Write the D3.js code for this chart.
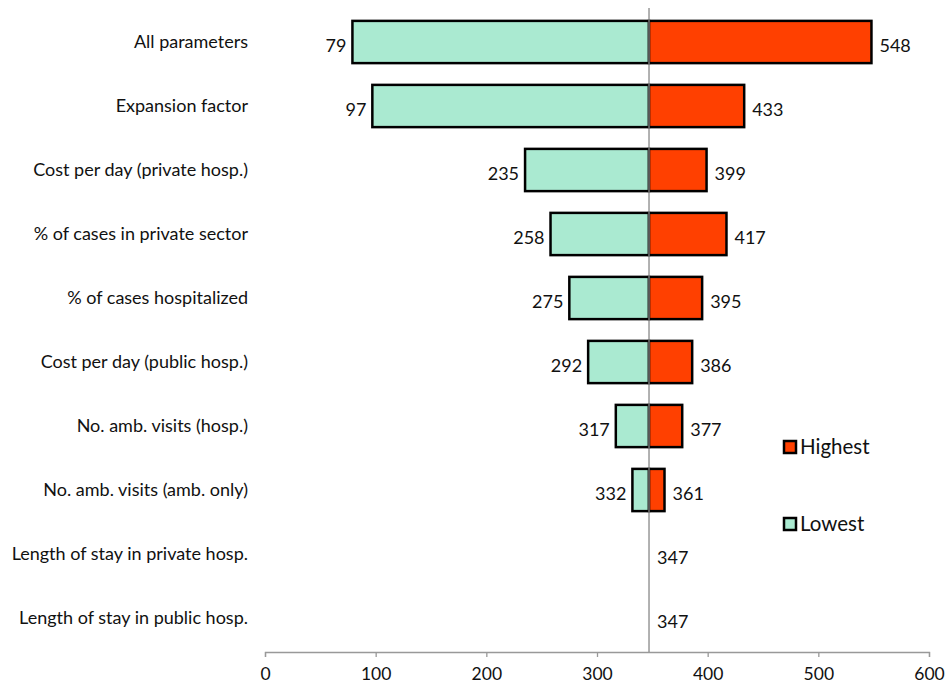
<!DOCTYPE html>
<html>
<head>
<meta charset="utf-8">
<script src="https://cdn.jsdelivr.net/npm/d3@7"></script>
<style>
  body { margin: 0; background: #fff; }
  text { font-family: Lato, "Open Sans", sans-serif; fill: #111; }
</style>
</head>
<body>
<div id="canvas"></div>
<script>
// parameters, top to bottom
var categories = [
  "All parameters",
  "Expansion factor",
  "Cost per day (private hosp.)",
  "% of cases in private sector",
  "% of cases hospitalized",
  "Cost per day (public hosp.)",
  "No. amb. visits (hosp.)",
  "No. amb. visits (amb. only)",
  "Length of stay in private hosp.",
  "Length of stay in public hosp."
]
var lowest  = [79, 97, 235, 258, 275, 292, 317, 332, 347, 347]
var highest = [548, 433, 399, 417, 395, 386, 377, 361, 347, 347]
var baseValue = 347
var xTicks = [0, 100, 200, 300, 400, 500, 600]

var width = 945, height = 683

var svg = d3.select("#canvas")
  .append("svg")
    .attr("width", width)
    .attr("height", height)

var x = d3.scaleLinear()
  .domain([0, 600])
  .range([265, 929])

var y = d3.scaleBand()
  .domain(categories)
  .range([10, 650])
  .paddingInner(0.34)
  .paddingOuter(0.17)

var axisY = 652

// x axis
var xAxis = svg.append("g")
  .attr("transform", "translate(0," + axisY + ")")
  .call(d3.axisBottom(x).tickValues(xTicks).tickSize(5).tickPadding(11))
xAxis.select(".domain").attr("stroke", "#999").attr("stroke-width", 1.3)
xAxis.selectAll(".tick line").attr("stroke", "#999").attr("stroke-width", 1.3)
xAxis.selectAll(".tick text")
  .style("font-family", "Lato, 'Open Sans', sans-serif")
  .style("font-size", "17.5px")
  .attr("fill", "#111")

// category labels
svg.append("g")
  .selectAll("text")
  .data(categories)
  .enter().append("text")
    .attr("x", 248)
    .attr("y", function(d) { return y(d) + y.bandwidth() / 2 })
    .attr("dy", "0.35em")
    .attr("text-anchor", "end")
    .style("font-size", "18px")
    .text(function(d) { return d })

var rows = categories.map(function(c, i) {
  return { name: c, low: lowest[i], high: highest[i] }
})

// lowest bars
svg.append("g")
  .selectAll("rect")
  .data(rows.filter(function(d) { return d.low < baseValue }))
  .enter().append("rect")
    .attr("x", function(d) { return x(d.low) })
    .attr("y", function(d) { return y(d.name) })
    .attr("width", function(d) { return x(baseValue) - x(d.low) })
    .attr("height", y.bandwidth())
    .attr("fill", "#aaead1")
    .attr("stroke", "#000")
    .attr("stroke-width", 2.5)

// highest bars
svg.append("g")
  .selectAll("rect")
  .data(rows.filter(function(d) { return d.high > baseValue }))
  .enter().append("rect")
    .attr("x", x(baseValue))
    .attr("y", function(d) { return y(d.name) })
    .attr("width", function(d) { return x(d.high) - x(baseValue) })
    .attr("height", y.bandwidth())
    .attr("fill", "#ff4000")
    .attr("stroke", "#000")
    .attr("stroke-width", 2.5)

// center line
svg.append("line")
  .attr("x1", x(baseValue)).attr("x2", x(baseValue))
  .attr("y1", 8).attr("y2", axisY)
  .attr("stroke", "#888")
  .attr("stroke-width", 1.3)

// value labels
svg.append("g")
  .selectAll("text")
  .data(rows.filter(function(d) { return d.low < baseValue }))
  .enter().append("text")
    .attr("x", function(d) { return x(d.low) - 6 })
    .attr("y", function(d) { return y(d.name) + y.bandwidth() / 2 + 4 })
    .attr("dy", "0.35em")
    .attr("text-anchor", "end")
    .style("font-size", "18px")
    .text(function(d) { return d.low })

svg.append("g")
  .selectAll("text")
  .data(rows)
  .enter().append("text")
    .attr("x", function(d) { return x(d.high) + 8 })
    .attr("y", function(d) { return y(d.name) + y.bandwidth() / 2 + 4 })
    .attr("dy", "0.35em")
    .style("font-size", "18px")
    .text(function(d) { return d.high })

// Handmade legend
var legend = [
  { label: "Highest", color: "#ff4000", y: 447 },
  { label: "Lowest", color: "#aaead1", y: 524 }
]
var lg = svg.append("g").selectAll("g").data(legend).enter().append("g")
lg.append("rect")
  .attr("x", 784).attr("y", function(d) { return d.y - 6 })
  .attr("width", 12).attr("height", 12)
  .attr("fill", function(d) { return d.color })
  .attr("stroke", "#000").attr("stroke-width", 2.5)
lg.append("text")
  .attr("x", 800).attr("y", function(d) { return d.y })
  .attr("dy", "0.35em")
  .style("font-size", "20.5px")
  .text(function(d) { return d.label })
</script>
</body>
</html>
